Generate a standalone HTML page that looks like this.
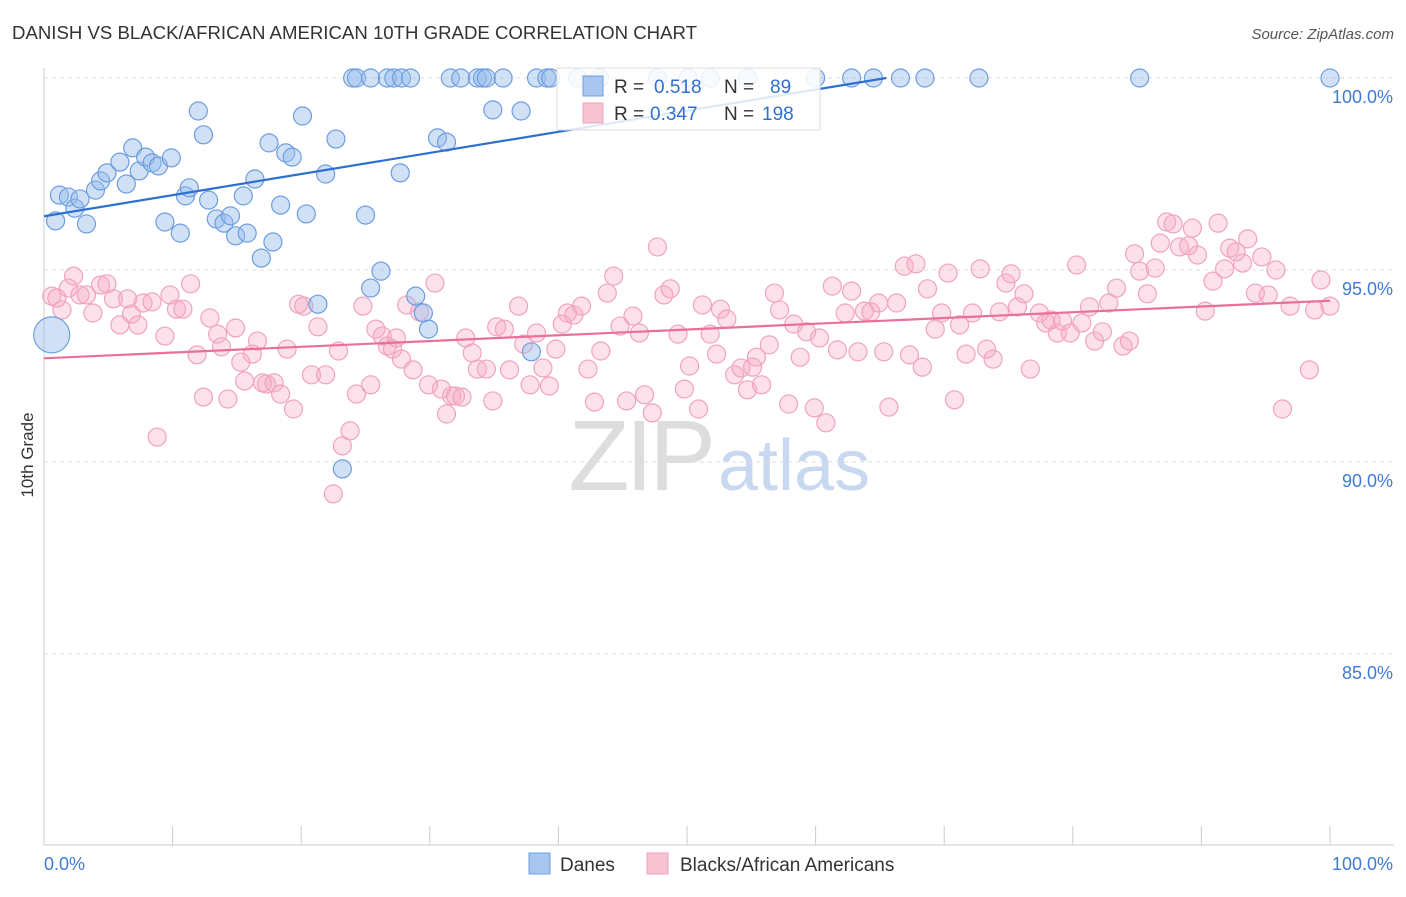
<!DOCTYPE html>
<html><head><meta charset="utf-8"><style>
body{margin:0;background:#fff;font-family:"Liberation Sans",sans-serif;}
svg text{font-family:"Liberation Sans",sans-serif;}
</style></head><body>
<svg id="chart" width="1406" height="892" xmlns="http://www.w3.org/2000/svg">
<text x="12" y="39" font-size="18" fill="#333" textLength="685" lengthAdjust="spacingAndGlyphs">DANISH VS BLACK/AFRICAN AMERICAN 10TH GRADE CORRELATION CHART</text>
<text x="1394" y="39" font-size="15" fill="#555" text-anchor="end" font-style="italic">Source: ZipAtlas.com</text>
<text transform="translate(33,455) rotate(-90)" font-size="17" fill="#333" text-anchor="middle">10th Grade</text>
<g>
<text x="712" y="490" font-size="100" fill="#ddd" text-anchor="end" font-family="Liberation Serif,serif" letter-spacing="-4">ZIP</text>
<text x="718" y="490" font-size="72" fill="#c8d8f0">atlas</text>
</g>
<g id="grid"></g>
<g id="axes"></g>
<g id="pinkpts"></g>
<g id="bluepts"></g>
<g id="lines"></g>
<g>
<rect x="557" y="68" width="263" height="62" fill="#fff" fill-opacity="0.85" stroke="#ddd"/>
<rect x="583" y="76" width="20" height="20" fill="#a9c6ef" stroke="#6d9de0"/>
<text x="614" y="93" font-size="19" fill="#333">R =</text>
<text x="654" y="93" font-size="19" fill="#2f6fd0">0.518</text>
<text x="724" y="93" font-size="19" fill="#333">N =</text>
<text x="770" y="93" font-size="19" fill="#2f6fd0">89</text>
<rect x="583" y="103" width="20" height="20" fill="#f8c4d4" stroke="#f0a0bc"/>
<text x="614" y="120" font-size="19" fill="#333">R =</text>
<text x="650" y="120" font-size="19" fill="#2f6fd0">0.347</text>
<text x="724" y="120" font-size="19" fill="#333">N =</text>
<text x="762" y="120" font-size="19" fill="#2f6fd0">198</text>
</g>
<g>
<rect x="529" y="853" width="21" height="21" fill="#a9c6ef" stroke="#6d9de0"/>
<text x="560" y="871" font-size="19" fill="#333">Danes</text>
<rect x="647" y="853" width="21" height="21" fill="#f8c4d4" stroke="#f0a0bc"/>
<text x="680" y="871" font-size="19" fill="#333">Blacks/African Americans</text>
</g>
</svg>
<script>
const yTicks=[100,95,90,85];
const yTickLabels=["100.0%","95.0%","90.0%","85.0%"];
const xTicks=[0,10,20,30,40,50,60,70,80,90,100];
const xEndLabels=["0.0%","100.0%"];
const blueX=[0.6,0.9,1.2,1.9,2.4,2.8,3.3,4.0,4.4,4.9,5.9,6.4,6.9,7.4,7.9,8.4,8.9,9.4,9.9,10.6,11.0,11.3,12.0,12.4,12.8,13.4,14.0,14.5,14.9,15.5,15.8,16.4,16.9,17.5,17.8,18.4,18.8,19.3,20.1,20.4,21.3,21.9,22.7,24.0,24.3,25.0,25.4,25.4,26.2,26.7,27.2,27.7,27.8,28.5,28.9,29.5,29.9,30.6,31.3,31.6,32.4,33.7,34.1,34.4,34.9,35.7,37.1,37.9,38.3,39.1,39.4,41.5,43.2,47.7,50.1,51.8,54.7,60.0,62.8,64.5,66.6,68.5,72.7,85.2,100.0,23.2];
const blueY=[93.31,96.28,96.95,96.90,96.61,96.85,96.20,97.08,97.32,97.53,97.81,97.24,98.18,97.58,97.94,97.79,97.71,96.25,97.92,95.96,96.93,97.14,99.14,98.52,96.82,96.33,96.22,96.41,95.89,96.93,95.96,97.37,95.31,98.31,95.73,96.69,98.05,97.94,99.01,96.46,94.11,97.50,98.41,100,100,96.43,100,94.53,94.97,100,100,97.53,100,100,94.32,93.88,93.46,98.44,98.33,100,100,100,100,100,99.17,100,99.14,92.87,100,100,100,100,100,100,100,100,100,100,100,100,100,100,100,100,100,89.82];
const pinkX=[0.6,1.0,1.4,1.9,2.3,2.8,3.3,3.8,4.4,4.9,5.4,5.9,6.5,6.8,7.3,7.7,8.4,8.8,9.4,9.8,10.3,10.8,11.4,11.9,12.4,12.9,13.5,13.8,14.3,14.9,15.3,15.6,16.2,16.6,17.0,17.3,17.9,18.4,18.9,19.4,19.8,20.2,20.8,21.3,21.9,22.5,22.9,23.2,23.8,24.3,24.8,25.4,25.8,26.3,26.7,27.1,27.4,27.8,28.2,28.7,29.2,29.9,30.4,30.9,31.3,31.7,32.0,32.5,32.8,33.3,33.7,34.4,34.9,35.2,35.8,36.2,36.9,37.3,37.8,38.3,38.8,39.3,39.8,40.3,40.7,41.2,41.8,42.3,42.8,43.3,43.8,44.3,44.8,45.3,45.8,46.3,46.7,47.3,47.7,48.2,48.7,49.3,49.8,50.2,50.9,51.2,51.8,52.3,52.6,53.1,53.7,54.2,54.7,55.1,55.4,55.8,56.4,56.8,57.2,57.9,58.3,58.8,59.3,59.9,60.3,60.8,61.3,61.7,62.3,62.8,63.3,63.8,64.3,64.9,65.3,65.7,66.3,66.9,67.3,67.8,68.3,68.7,69.3,69.8,70.3,70.8,71.2,71.7,72.2,72.8,73.3,73.8,74.3,74.8,75.2,75.7,76.2,76.7,77.4,77.9,78.3,78.8,79.2,79.8,80.3,80.7,81.3,81.7,82.3,82.8,83.4,83.9,84.4,84.8,85.2,85.8,86.4,86.8,87.3,87.8,88.3,89.0,89.3,89.7,90.3,90.9,91.3,91.8,92.2,92.7,93.2,93.6,94.2,94.7,95.2,95.8,96.3,96.9,98.4,98.8,99.3,100.0];
const pinkY=[94.32,94.27,93.96,94.53,94.84,94.35,94.35,93.88,94.61,94.64,94.25,93.57,94.25,93.85,93.57,94.14,94.17,90.65,93.28,94.35,93.98,93.98,94.64,92.79,91.69,93.75,93.33,93.00,91.64,93.49,92.60,92.11,92.81,93.15,92.06,92.03,92.06,91.77,92.94,91.38,94.11,94.06,92.27,93.52,92.27,89.17,92.89,90.42,90.81,91.77,94.06,92.01,93.46,93.28,93.02,92.94,93.23,92.68,94.09,92.40,93.91,92.01,94.66,91.90,91.25,91.72,91.72,91.69,93.23,92.84,92.42,92.42,91.59,93.52,93.46,92.40,94.06,93.07,92.01,93.36,92.45,91.98,92.94,93.59,93.88,93.83,94.06,92.42,91.56,92.89,94.40,94.84,93.54,91.59,93.80,93.36,91.75,91.28,95.60,94.35,94.51,93.33,91.90,92.50,91.38,94.09,93.33,92.81,93.98,93.72,92.27,92.45,91.88,92.47,92.73,92.01,93.05,94.40,93.96,91.51,93.59,92.73,93.39,91.41,93.23,91.02,94.58,92.92,93.88,94.45,92.87,93.93,93.91,94.14,92.87,91.43,94.14,95.10,92.79,95.16,92.47,94.51,93.46,93.88,94.92,91.62,93.57,92.81,93.88,95.03,92.94,92.68,93.91,94.66,94.90,94.04,94.38,92.42,93.88,93.62,93.70,93.36,93.67,93.36,95.13,93.62,94.04,93.15,93.39,94.14,94.53,93.02,93.15,95.42,94.97,94.38,95.05,95.70,96.25,96.20,95.60,95.63,96.09,95.39,93.93,94.71,96.22,95.03,95.57,95.47,95.18,95.81,94.40,95.34,94.35,95.00,91.38,94.06,92.40,93.96,94.74,94.06];
const blueTrend=[[0,96.4],[65.5,100]];
const pinkTrend=[[0,92.7],[100,94.2]];
const NS="http://www.w3.org/2000/svg";
const sx=v=>44+v*12.86;
const sy=v=>78+(100-v)*38.4;
function mk(tag,attrs,parent){const e=document.createElementNS(NS,tag);for(const k in attrs)e.setAttribute(k,attrs[k]);parent.appendChild(e);return e;}
const grid=document.getElementById('grid'),axes=document.getElementById('axes');
yTicks.forEach((t,i)=>{
 const l=mk('line',{x1:44,x2:1394,y1:sy(t),y2:sy(t),stroke:'#ddd','stroke-dasharray':'4,4'},grid);
 
 
 const tx=mk('text',{x:1393,y:sy(t)+25,'font-size':18,fill:'#3f7bd6','text-anchor':'end'},axes);
 tx.textContent=yTickLabels[i];
 
 
});
const ya=mk('line',{x1:44,x2:44,y1:68,y2:845,stroke:'#ccc'},axes);


const xa=mk('line',{x1:44,x2:1394,y1:845,y2:845,stroke:'#ccc'},axes);


xTicks.forEach(t=>{
 const l=mk('line',{x1:sx(t),x2:sx(t),y1:826,y2:845,stroke:'#ccc'},axes);
 
 
});
const xl0=mk('text',{x:44,y:870,'font-size':18,fill:'#3f7bd6'},axes);xl0.textContent=xEndLabels[0];


const xl1=mk('text',{x:1393,y:870,'font-size':18,fill:'#3f7bd6','text-anchor':'end'},axes);xl1.textContent=xEndLabels[1];


const pg=document.getElementById('pinkpts');
pinkX.forEach((x,i)=>{
 const c=mk('circle',{cx:sx(x),cy:sy(pinkY[i]),r:9,fill:'rgba(246,170,197,0.35)',stroke:'#f0a3bd','stroke-width':1.2},pg);
 
 
});
const bg=document.getElementById('bluepts');
blueX.forEach((x,i)=>{
 const c=mk('circle',{cx:sx(x),cy:sy(blueY[i]),r:i===0?18:9,fill:'rgba(150,188,236,0.45)',stroke:'#6d9de0','stroke-width':1.2},bg);
 
 
});
const lg=document.getElementById('lines');
const bl=mk('line',{x1:sx(blueTrend[0][0]),y1:sy(blueTrend[0][1]),x2:sx(blueTrend[1][0]),y2:sy(blueTrend[1][1]),stroke:'#2f6fd0','stroke-width':2.2},lg);


const pl=mk('line',{x1:sx(pinkTrend[0][0]),y1:sy(pinkTrend[0][1]),x2:sx(pinkTrend[1][0]),y2:sy(pinkTrend[1][1]),stroke:'#e8709a','stroke-width':2.2},lg);


</script>
</body></html>
